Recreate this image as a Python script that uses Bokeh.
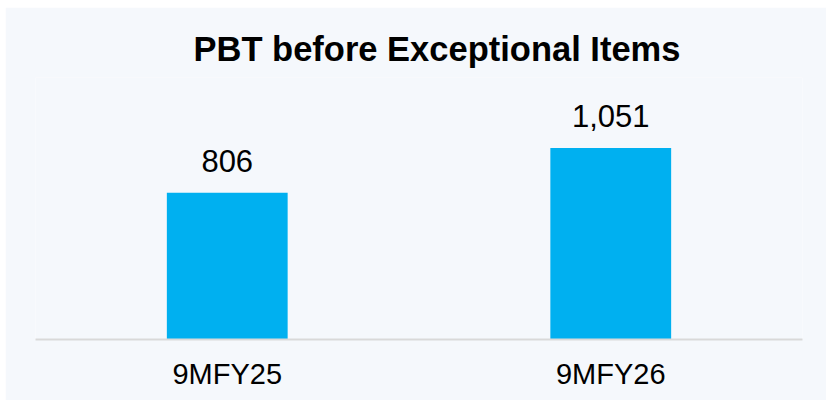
from bokeh.plotting import figure
from bokeh.models import ColumnDataSource, FactorRange, Range1d, Title, Spacer
from bokeh.layouts import column, row
from bokeh.core.properties import value
from bokeh.embed import file_html
from bokeh.resources import INLINE

categories = ["9MFY25", "9MFY26"]
values = [806, 1051]
value_labels = ["806", "1,051"]

BG = "#f5f8fc"
FONT = "Liberation Sans"

src = ColumnDataSource(dict(cat=categories, val=values, lab=value_labels))

p = figure(
    x_range=FactorRange(*categories, range_padding=0),
    y_range=Range1d(0, 1438),
    width=821, height=393,
    output_backend="svg", toolbar_location=None,
    min_border_left=30, min_border_right=24,
    min_border_top=70, min_border_bottom=61,
    background_fill_color=BG, border_fill_color=BG,
    outline_line_color=None,
)

p.add_layout(Title(text="PBT before Exceptional Items", align="left",
                   text_font=FONT, text_font_size="34.5px", text_font_style="bold",
                   text_color="black", offset=158, standoff=20), "above")

p.vbar(x="cat", top="val", width=0.315, source=src, color="#00b0f0", line_color=None)
p.text(x="cat", y="val", text="lab", source=src, y_offset=-32,
       text_align="center", text_baseline="alphabetic",
       text_font=value(FONT), text_font_size="31px", text_color="black")

p.yaxis.visible = False
p.grid.visible = False
ax = p.xaxis[0]
ax.axis_line_color = "#d9d9d9"
ax.axis_line_width = 2
ax.major_tick_line_color = None
ax.minor_tick_line_color = None
ax.major_label_text_font = FONT
ax.major_label_text_font_size = "29px"
ax.major_label_text_color = "black"
ax.major_label_standoff = 12

layout = column(Spacer(width=826, height=7), row(Spacer(width=5, height=393), p))

open("out.html", "w").write(file_html(layout, INLINE))
